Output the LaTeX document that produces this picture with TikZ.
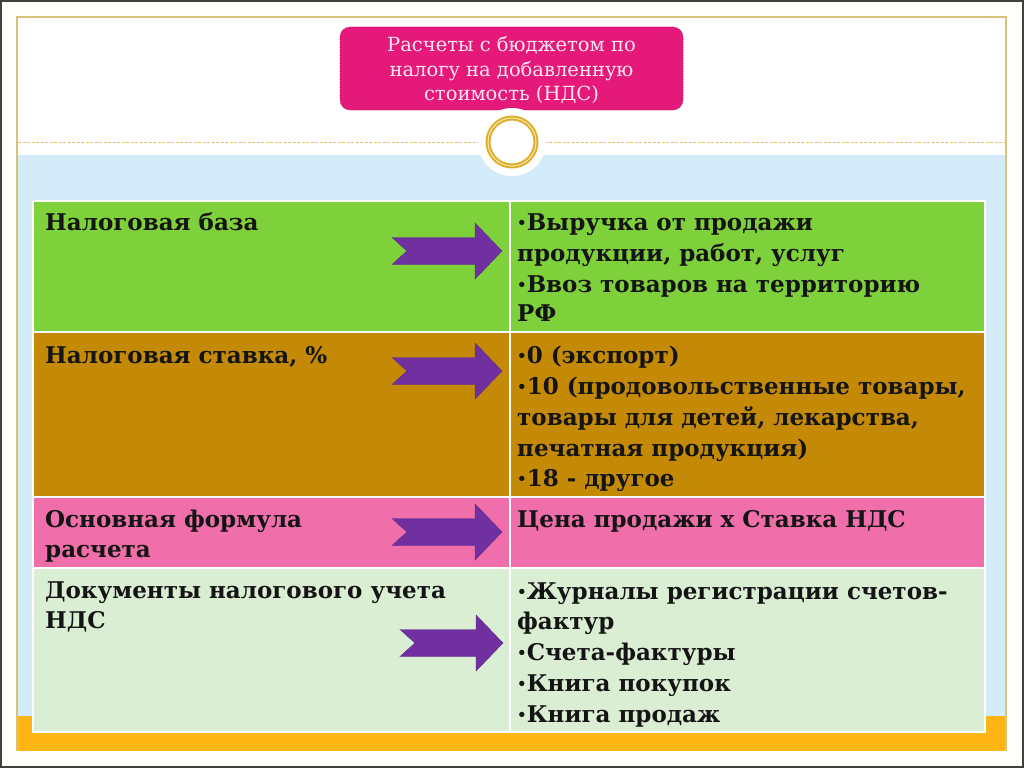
\documentclass[tikz,border=0pt]{standalone}
\usepackage{fontspec}
\setmainfont{DejaVu Serif}
\definecolor{frameTan}{HTML}{D8C27E}
\definecolor{bgBlue}{HTML}{D4EBFA}
\definecolor{stripOrange}{HTML}{FDB614}
\definecolor{titlePink}{HTML}{E5197A}
\definecolor{titleText}{HTML}{FDE6F1}
\definecolor{rowGreen}{HTML}{7FD13B}
\definecolor{rowOchre}{HTML}{C48A06}
\definecolor{rowPink}{HTML}{F06FAA}
\definecolor{rowPale}{HTML}{D9EED2}
\definecolor{arrowPurple}{HTML}{7030A0}
\definecolor{ringGold}{HTML}{DDAF2E}
\definecolor{ringLight}{HTML}{F7E6A6}
\definecolor{dashGold}{HTML}{E2C470}
\newcommand{\bul}{{\fontsize{15}{15}\selectfont\raisebox{1.5pt}{•}}}
\tikzset{
  cellbox/.style={draw=white, line width=2pt},
  celltext/.style={anchor=base west, inner sep=0pt, text=black!92,
    font=\bfseries\fontsize{23}{28}\selectfont},
  titletext/.style={anchor=base, inner sep=0pt, text=titleText,
    font=\fontsize{19.5}{24}\selectfont},
  chev/.pic={
    \fill[arrowPurple, draw=arrowPurple!85!black, line width=0.4pt]
      (0,-13.5) -- (\pgfkeysvalueof{/tikz/chevhead},-13.5) -- (\pgfkeysvalueof{/tikz/chevhead},-28)
      -- (\pgfkeysvalueof{/tikz/chevtip},0) -- (\pgfkeysvalueof{/tikz/chevhead},28)
      -- (\pgfkeysvalueof{/tikz/chevhead},13.5) -- (0,13.5) -- (15,0) -- cycle;
  },
  chevhead/.initial=83,
  chevtip/.initial=110
}
\begin{document}
\begin{tikzpicture}[x=1pt, y=-1pt]
\useasboundingbox (0,0) rectangle (1024,768);
% page background and outer dark border
\fill[white!99!yellow] (0,0) rectangle (1024,768);
\draw[black!75, line width=2pt] (1,1) rectangle (1023,767);
% slide frame
\fill[white] (17,17) rectangle (1006,716);
\fill[bgBlue] (17,155) rectangle (1006,716);
\fill[stripOrange] (16,716) rectangle (1007,751);
\draw[frameTan, line width=1.2pt] (17,751) -- (17,17) -- (1006,17) -- (1006,751);
% dashed separator
\draw[dashGold, line width=1pt, dash pattern=on 3pt off 1.5pt] (18,142) -- (1005,142);
% title box
\node[fill=titlePink, rounded corners=10pt, minimum width=343pt, minimum height=83pt,
      draw=titlePink!80!black, densely dotted, line width=0.6pt, inner sep=0pt]
      (title) at (511.5,68.5) {};
\node[titletext] (t1) at (511.5,52) {Расчеты с бюджетом по};
\node[titletext] (t2) at (511.5,76) {налогу на добавленную};
\node[titletext] (t3) at (511.5,100) {стоимость (НДС)};
% ring
\node[circle, fill=white, minimum size=68pt, inner sep=0pt] (glow) at (512,142) {};
\node[circle, draw=ringGold, line width=5pt, minimum size=48pt, inner sep=0pt, fill=white] (ring) at (glow.center) {};
\node[circle, draw=ringLight, line width=1pt, minimum size=48pt, inner sep=0pt] (ringmid) at (glow.center) {};
% table cells
\fill[white] (32,200) rectangle (986,733);
\path[cellbox, fill=rowGreen] (33,201) rectangle (510,332);
\path[cellbox, fill=rowGreen] (510,201) rectangle (985,332);
\path[cellbox, fill=rowOchre] (33,332) rectangle (510,497);
\path[cellbox, fill=rowOchre] (510,332) rectangle (985,497);
\path[cellbox, fill=rowPink] (33,497) rectangle (510,568);
\path[cellbox, fill=rowPink] (510,497) rectangle (985,568);
\path[cellbox, fill=rowPale] (33,568) rectangle (510,732);
\path[cellbox, fill=rowPale] (510,568) rectangle (985,732);
% row 1
\node[celltext] (l1) at (45,230) {Налоговая база};
\node[celltext] (r1a) at (517,230) {\bul Выручка от продажи};
\node[celltext] (r1b) at (517,261) {продукции, работ, услуг};
\node[celltext] (r1c) at (517,292) {\bul Ввоз товаров на территорию};
\node[celltext] (r1d) at (517,321) {РФ};
% row 2
\node[celltext] (l2) at (45,363) {Налоговая ставка, \%};
\node[celltext] (r2a) at (517,363) {\bul 0 (экспорт)};
\node[celltext] (r2b) at (517,394) {\bul 10 (продовольственные товары,};
\node[celltext] (r2c) at (517,425) {товары для детей, лекарства,};
\node[celltext] (r2d) at (517,456) {печатная продукция)};
\node[celltext] (r2e) at (517,486) {\bul 18 - другое};
% row 3
\node[celltext] (l3a) at (45,527) {Основная формула};
\node[celltext] (l3b) at (45,557) {расчета};
\node[celltext] (r3a) at (517,527) {Цена продажи х Ставка НДС};
% row 4
\node[celltext] (l4a) at (45,598) {Документы налогового учета};
\node[celltext] (l4b) at (45,628) {НДС};
\node[celltext] (r4a) at (517,599) {\bul Журналы регистрации счетов-};
\node[celltext] (r4b) at (517,629) {фактур};
\node[celltext] (r4c) at (517,660) {\bul Счета-фактуры};
\node[celltext] (r4d) at (517,691) {\bul Книга покупок};
\node[celltext] (r4e) at (517,722) {\bul Книга продаж};
% arrows
\pic at (392,251) {chev};
\pic at (392,371) {chev};
\pic at (392,532) {chev};
\pic[chevhead=76, chevtip=103] at (400,643) {chev};
\end{tikzpicture}
\end{document}
